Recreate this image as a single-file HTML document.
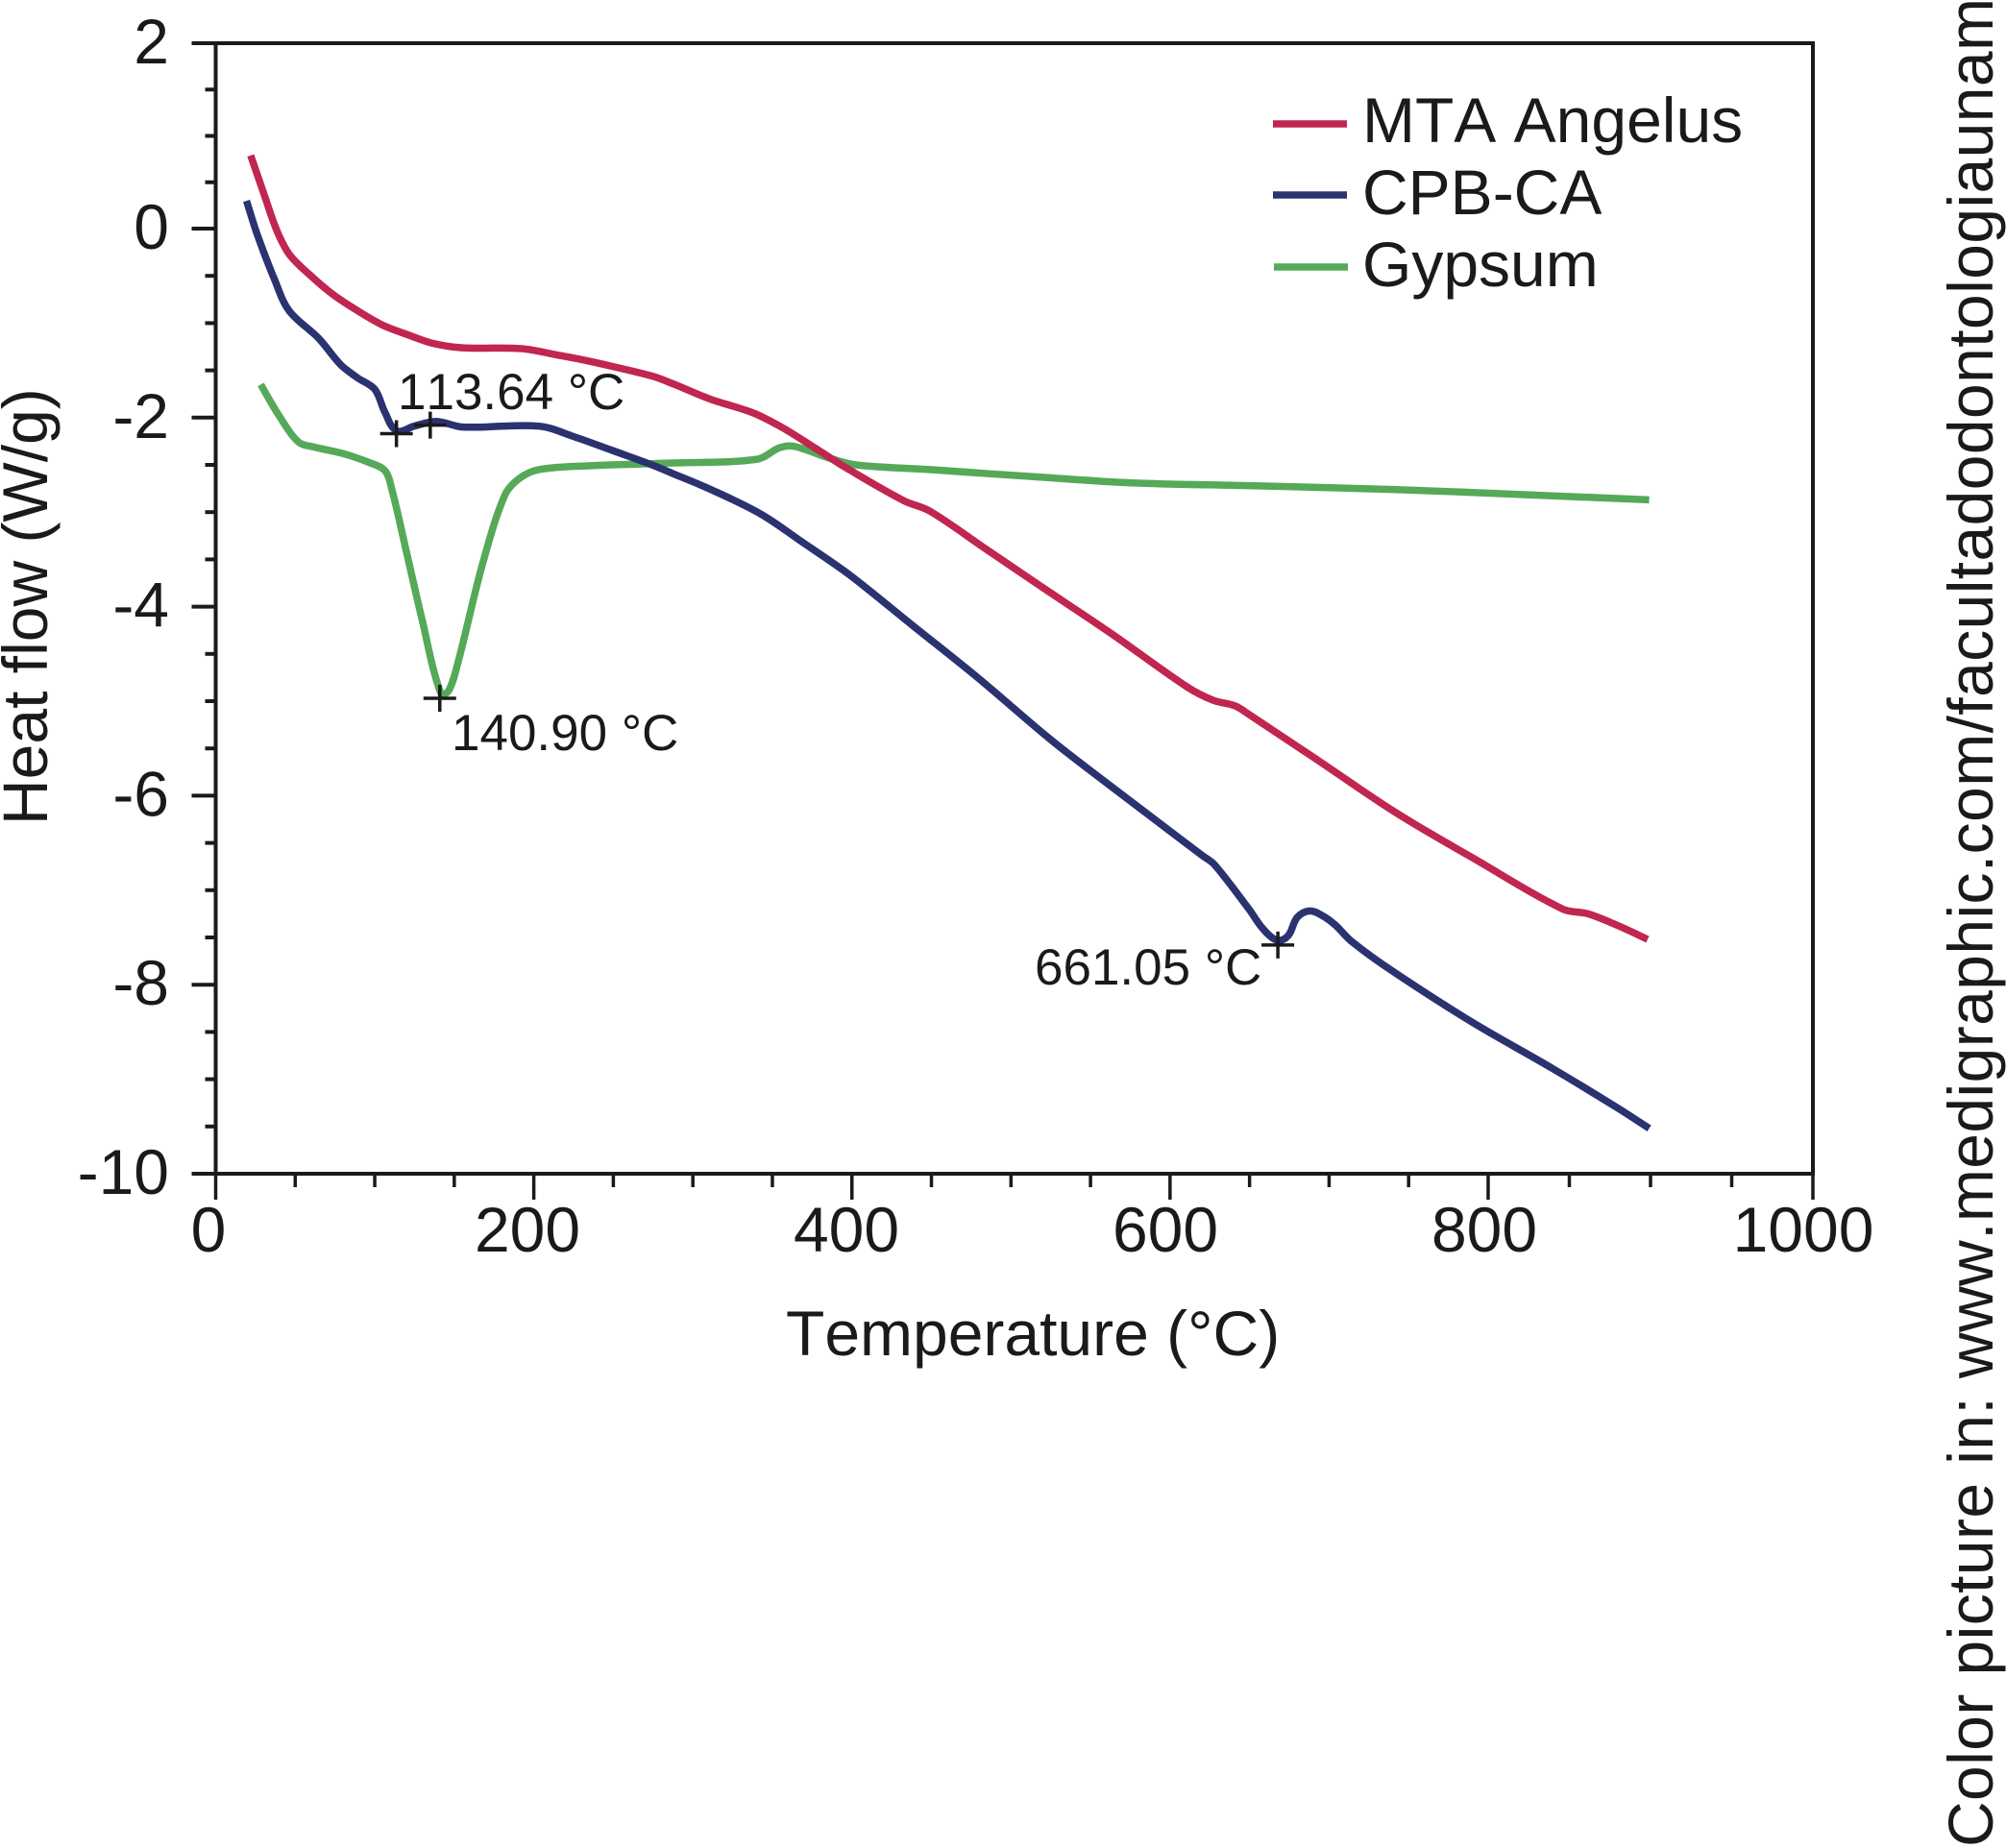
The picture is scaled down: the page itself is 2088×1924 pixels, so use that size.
<!DOCTYPE html>
<html lang="en">
<head>
<meta charset="utf-8">
<title>Heat flow vs temperature</title>
<style>
html,body{margin:0;padding:0;background:#fff;width:2088px;height:1924px;overflow:hidden}
svg{display:block;font-family:"Liberation Sans",Arial,sans-serif;fill:#1a1a1a;font-kerning:none}
</style>
</head>
<body>
<svg id="chart" xmlns="http://www.w3.org/2000/svg" width="2088" height="1924" viewBox="0 0 2088 1924">
  <rect x="0" y="0" width="2088" height="1924" fill="#fff"/>
  <g id="axes"></g>
  <g id="series"></g>
  <g id="markers"></g>
  <text x="818" y="1411" font-size="66">Temperature (°C)</text>
  <text x="49" y="859" font-size="66" transform="rotate(-90 49 859)">Heat flow (W/g)</text>
  <g>
    <line x1="1325" x2="1402" y1="129" y2="129" stroke="#c0264f" stroke-width="7.5"/>
    <text x="1418" y="148" font-size="66">MTA Angelus</text>
    <line x1="1325" x2="1402" y1="203" y2="203" stroke="#2b3270" stroke-width="7.5"/>
    <text x="1418" y="223" font-size="66">CPB-CA</text>
    <line x1="1326" x2="1403" y1="278" y2="278" stroke="#55a958" stroke-width="7.5"/>
    <text x="1418" y="298" font-size="66">Gypsum</text>
  </g>
  <text x="414" y="426" font-size="53">113.64 °C</text>
  <text x="470" y="781" font-size="53">140.90 °C</text>
  <text x="1077" y="1025" font-size="53">661.05 °C</text>
  <text x="2074" y="1923" font-size="66" textLength="1925" lengthAdjust="spacing" transform="rotate(-90 2074 1923)">Color picture in: www.medigraphic.com/facultadodontologiaunam</text>
</svg>
<script>
const xMajorTicks = [0, 200, 400, 600, 800, 1000];
const xMinorTicks = [50, 100, 150, 250, 300, 350, 450, 500, 550, 650, 700, 750, 850, 900, 950];
const yMajorTicks = [2, 0, -2, -4, -6, -8, -10];
const yMinorTicks = [1.5, 1, 0.5, -0.5, -1, -1.5, -2.5, -3, -3.5, -4.5, -5, -5.5, -6.5, -7, -7.5, -8.5, -9, -9.5];

const mtaTemp = [22, 30.8, 38.4, 46.2, 58.5, 74, 89.3, 104.8, 120.2, 135.6, 154.1, 192.4, 212.6, 234.1, 274.3, 287.2, 310.2, 337.9, 356.7, 374.8, 398.2, 432.8, 449.1, 485.9, 518.4, 564.4, 610.8, 627, 640.9, 649.6, 689.9, 742, 790.4, 846, 861.5, 879.3, 898.2];
const mtaFlow = [0.79, 0.35, -0.02, -0.27, -0.48, -0.7, -0.87, -1.02, -1.12, -1.21, -1.26, -1.27, -1.33, -1.4, -1.56, -1.64, -1.8, -1.95, -2.11, -2.3, -2.55, -2.88, -2.99, -3.41, -3.78, -4.3, -4.85, -4.99, -5.05, -5.14, -5.59, -6.18, -6.66, -7.2, -7.25, -7.37, -7.52];

const cpbTemp = [19.4, 26.3, 37, 46.2, 64.7, 78.6, 89.3, 100, 106.3, 113.9, 124.7, 138.6, 155.5, 203.2, 225, 249.8, 274.3, 287.2, 312.6, 342.8, 368.2, 398.2, 437.5, 479, 525.2, 564.4, 620, 627.9, 649.6, 657.5, 664.8, 669.6, 674.8, 679.9, 687.7, 695.9, 704, 714, 740.2, 790.3, 840, 879.3, 899.2];
const cpbFlow = [0.3, -0.07, -0.54, -0.87, -1.16, -1.44, -1.58, -1.7, -1.94, -2.14, -2.09, -2.04, -2.1, -2.09, -2.2, -2.35, -2.5, -2.59, -2.77, -3.02, -3.31, -3.66, -4.19, -4.75, -5.41, -5.92, -6.63, -6.73, -7.2, -7.39, -7.51, -7.53, -7.47, -7.29, -7.22, -7.27, -7.37, -7.54, -7.86, -8.4, -8.89, -9.3, -9.52];

const gypsumTemp = [28.3, 40.2, 52.2, 61.6, 80, 95.6, 106.3, 110.8, 120.2, 129.4, 141.6, 146.5, 152.5, 167.9, 181.8, 191.2, 203.2, 234.1, 287.2, 340.4, 354.3, 362.3, 372.7, 384.3, 402.6, 449.1, 518.4, 575.9, 649.6, 740.2, 899.2];
const gypsumFlow = [-1.65, -1.99, -2.26, -2.31, -2.38, -2.47, -2.56, -2.76, -3.44, -4.11, -4.92, -4.89, -4.58, -3.54, -2.82, -2.64, -2.55, -2.51, -2.48, -2.44, -2.32, -2.3, -2.35, -2.42, -2.5, -2.55, -2.63, -2.69, -2.72, -2.76, -2.87];

const peakTemp = [113.64, 134.9, 140.9, 667.8];
const peakFlow = [-2.17, -2.08, -4.97, -7.58];

const NS = 'http://www.w3.org/2000/svg';
const INK = '#1a1a1a';

function xScale(v) {
  if (v <= 800) return 224.5 + v * 1.6556;
  return 1549 + (v - 800) * 1.69;
}
function yScale(v) {
  if (v >= 0) return 238 - v * 96.5;
  return 238 - v * 98.4;
}
function xLabelPos(v) {
  return 217 + v * 1.66;
}
function make(tag, attrs, parent) {
  const el = document.createElementNS(NS, tag);
  for (const k in attrs) el.setAttribute(k, attrs[k]);
  parent.appendChild(el);
  return el;
}
function smoothPath(xs, ys) {
  const pts = xs.map((x, i) => [xScale(x), yScale(ys[i])]);
  const dirs = pts.map(function (p, i) {
    const a = pts[Math.max(0, i - 1)], b = pts[Math.min(pts.length - 1, i + 1)];
    const dx = b[0] - a[0], dy = b[1] - a[1], len = Math.hypot(dx, dy) || 1;
    return [dx / len, dy / len];
  });
  let d = 'M' + pts[0][0].toFixed(1) + ' ' + pts[0][1].toFixed(1);
  for (let i = 0; i < pts.length - 1; i++) {
    const p1 = pts[i], p2 = pts[i + 1];
    const h = Math.hypot(p2[0] - p1[0], p2[1] - p1[1]) / 3;
    d += 'C' + (p1[0] + dirs[i][0] * h).toFixed(1) + ' ' + (p1[1] + dirs[i][1] * h).toFixed(1) + ' ' +
         (p2[0] - dirs[i + 1][0] * h).toFixed(1) + ' ' + (p2[1] - dirs[i + 1][1] * h).toFixed(1) + ' ' +
         p2[0].toFixed(1) + ' ' + p2[1].toFixed(1);
  }
  return d;
}

const axes = document.getElementById('axes');
const seriesGroup = document.getElementById('series');
const markers = document.getElementById('markers');

const frame = make('rect', {x: xScale(0), y: yScale(2), width: xScale(1000) - xScale(0), height: yScale(-10) - yScale(2), fill: 'none', stroke: INK, 'stroke-width': 4}, axes);



xMajorTicks.forEach(function (v) {
  const tick = make('line', {x1: xScale(v), x2: xScale(v), y1: yScale(-10), y2: yScale(-10) + 27, stroke: INK, 'stroke-width': 3.5}, axes);
  
  
  const label = make('text', {x: xLabelPos(v), y: 1303, 'font-size': 66, 'text-anchor': 'middle'}, axes);
  
  
  label.textContent = String(v);
});
xMinorTicks.forEach(function (v) {
  const tick = make('line', {x1: xScale(v), x2: xScale(v), y1: yScale(-10), y2: yScale(-10) + 14, stroke: INK, 'stroke-width': 3.5}, axes);
  
  
});
yMajorTicks.forEach(function (v) {
  const tick = make('line', {x1: xScale(0) - 25, x2: xScale(0), y1: yScale(v), y2: yScale(v), stroke: INK, 'stroke-width': 4}, axes);
  
  
  const label = make('text', {x: 176, y: yScale(v) + 21, 'font-size': 66, 'text-anchor': 'end'}, axes);
  
  
  label.textContent = String(v);
});
yMinorTicks.forEach(function (v) {
  const tick = make('line', {x1: xScale(0) - 11, x2: xScale(0), y1: yScale(v), y2: yScale(v), stroke: INK, 'stroke-width': 4}, axes);
  
  
});

const gypsumLine = make('path', {d: smoothPath(gypsumTemp, gypsumFlow), fill: 'none', stroke: '#55a958', 'stroke-width': 7.5, 'stroke-linejoin': 'round'}, seriesGroup);



const cpbLine = make('path', {d: smoothPath(cpbTemp, cpbFlow), fill: 'none', stroke: '#2b3270', 'stroke-width': 7.5, 'stroke-linejoin': 'round'}, seriesGroup);



const mtaLine = make('path', {d: smoothPath(mtaTemp, mtaFlow), fill: 'none', stroke: '#c0264f', 'stroke-width': 7.5, 'stroke-linejoin': 'round'}, seriesGroup);



peakTemp.forEach(function (t, i) {
  const cx = xScale(t), cy = yScale(peakFlow[i]);
  const mark = make('path', {d: 'M' + (cx - 17) + ' ' + cy + 'H' + (cx + 17) + 'M' + cx + ' ' + (cy - 14) + 'V' + (cy + 14), fill: 'none', stroke: INK, 'stroke-width': 3.5}, markers);
  
  
});
</script>
</body>
</html>
